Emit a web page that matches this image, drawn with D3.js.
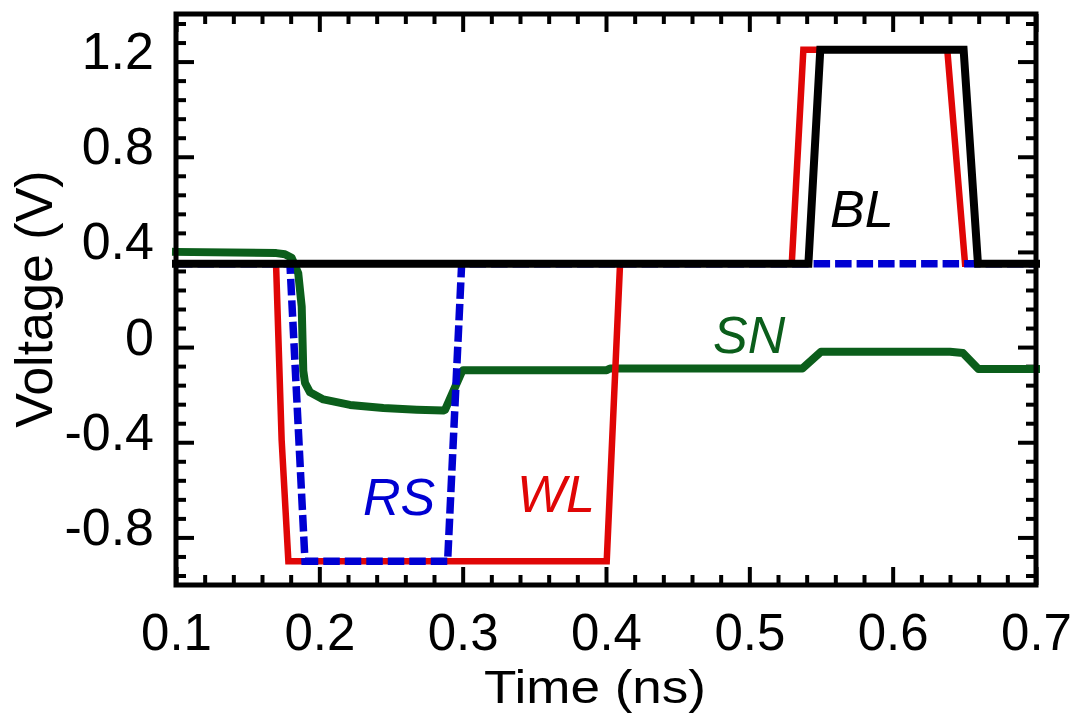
<!DOCTYPE html>
<html>
<head>
<meta charset="utf-8">
<script src="https://cdn.jsdelivr.net/npm/d3@7"></script>
<style>
  html, body { margin: 0; padding: 0; background: #fff; }
  svg { display: block; }
  text { font-family: "Liberation Sans", Arial, Helvetica, sans-serif; }
</style>
</head>
<body>
<svg id="chart" width="1078" height="719"></svg>
<script>
// Word line (WL) waveform: time in ns, voltage in V
const wlTime = [0.1, 0.1698, 0.1737, 0.1784, 0.4005, 0.4098, 0.5296, 0.5377, 0.6381, 0.6505, 0.7];
const wlVolt = [0.35, 0.35, -0.39, -0.9, -0.9, 0.35, 0.35, 1.25, 1.25, 0.35, 0.35];

// Read select (RS) waveform
const rsTime = [0.1, 0.1795, 0.190, 0.2895, 0.2993, 0.7];
const rsVolt = [0.35, 0.35, -0.9, -0.9, 0.35, 0.35];

// Bit line (BL) waveform
const blTime = [0.1, 0.5412, 0.5495, 0.6495, 0.6595, 0.7];
const blVolt = [0.35, 0.35, 1.25, 1.25, 0.35, 0.35];

// Storage node (SN) waveform
const snTime = [0.1, 0.170, 0.176, 0.1807, 0.1853, 0.1877, 0.1888, 0.190, 0.1935, 0.2028,
                0.2214, 0.2447, 0.268, 0.2865, 0.2877, 0.2993, 0.3004, 0.4005, 0.4028, 0.528,
                0.5370, 0.5500, 0.640, 0.649, 0.6598, 0.7];
const snVolt = [0.4, 0.395, 0.39, 0.375, 0.31, 0.17, -0.10, -0.15, -0.19, -0.22,
                -0.243, -0.256, -0.263, -0.267, -0.264, -0.105, -0.097, -0.097, -0.09, -0.09,
                -0.09, -0.02, -0.02, -0.025, -0.092, -0.092];

// Axis ticks
const xTickLabels = [0.1, 0.2, 0.3, 0.4, 0.5, 0.6, 0.7];
const yTickLabels = [-0.8, -0.4, 0, 0.4, 0.8, 1.2];

const svg = d3.select("#chart");
const plotLeft = 176, plotRight = 1036, plotTop = 14, plotBottom = 585;

const x = d3.scaleLinear().domain([0.1, 0.7]).range([plotLeft, plotRight]);
const y = d3.scaleLinear().domain([-1.0, 1.4]).range([plotBottom, plotTop]);

const xMinor = d3.range(0.1, 0.7001, 0.02).filter(v => !xTickLabels.some(m => Math.abs(m - v) < 1e-6));
const yMinor = d3.range(-0.96, 1.4, 0.08).filter(v => !yTickLabels.some(m => Math.abs(m - v) < 1e-6));

const majorLen = 18, minorLen = 10;
// plain hyphen for negative numbers
const fmt = d => d === 0 ? "0" : d.toFixed(1);

function styleAxis(g) {
  g.select(".domain").remove();
  g.selectAll(".tick line").attr("stroke", "#000").attr("stroke-width", 4);
}

// Minor ticks on all four sides (inward)
svg.append("g").attr("transform", `translate(0,${plotBottom})`)
  .call(d3.axisBottom(x).tickValues(xMinor).tickSize(-minorLen).tickFormat("")).call(styleAxis);
svg.append("g").attr("transform", `translate(0,${plotTop})`)
  .call(d3.axisTop(x).tickValues(xMinor).tickSize(-minorLen).tickFormat("")).call(styleAxis);
svg.append("g").attr("transform", `translate(${plotLeft},0)`)
  .call(d3.axisLeft(y).tickValues(yMinor).tickSize(-minorLen).tickFormat("")).call(styleAxis);
svg.append("g").attr("transform", `translate(${plotRight},0)`)
  .call(d3.axisRight(y).tickValues(yMinor).tickSize(-minorLen).tickFormat("")).call(styleAxis);

// Major ticks with labels
const xAxis = svg.append("g").attr("transform", `translate(0,${plotBottom})`)
  .call(d3.axisBottom(x).tickValues(xTickLabels).tickSize(-majorLen).tickFormat(fmt))
  .call(styleAxis);
xAxis.attr("font-family", null).attr("font-size", null);
xAxis.selectAll("text").attr("y", 65).attr("dy", 0)
  .attr("font-size", 51).attr("fill", "#000");

svg.append("g").attr("transform", `translate(0,${plotTop})`)
  .call(d3.axisTop(x).tickValues(xTickLabels).tickSize(-majorLen).tickFormat("")).call(styleAxis);

const yAxis = svg.append("g").attr("transform", `translate(${plotLeft},0)`)
  .call(d3.axisLeft(y).tickValues(yTickLabels).tickSize(-majorLen).tickFormat(fmt))
  .call(styleAxis);
yAxis.attr("font-family", null).attr("font-size", null);
yAxis.selectAll("text").attr("x", -22).attr("y", 7).attr("dy", 0)
  .attr("font-size", 52).attr("fill", "#000");

svg.append("g").attr("transform", `translate(${plotRight},0)`)
  .call(d3.axisRight(y).tickValues(yTickLabels).tickSize(-majorLen).tickFormat("")).call(styleAxis);

// Waveforms
const pts = (t, v) => t.map((d, i) => [d, v[i]]);
const line = d3.line().x(d => x(d[0])).y(d => y(d[1]));

svg.append("path").datum(pts(snTime, snVolt)).attr("d", line)
  .attr("fill", "none").attr("stroke", "#0b5e1b").attr("stroke-width", 8)
  .attr("stroke-linecap", "square").attr("stroke-linejoin", "round");

svg.append("path").datum(pts(wlTime, wlVolt)).attr("d", line)
  .attr("fill", "none").attr("stroke", "#e00606").attr("stroke-width", 6.5)
  .attr("stroke-linejoin", "miter");

svg.append("path").datum(pts(rsTime, rsVolt)).attr("d", line)
  .attr("fill", "none").attr("stroke", "#0000d2").attr("stroke-width", 7.5)
  .attr("stroke-dasharray", "16.5,5").attr("stroke-linejoin", "miter");

svg.append("path").datum(pts(blTime, blVolt)).attr("d", line)
  .attr("fill", "none").attr("stroke", "#000").attr("stroke-width", 8)
  .attr("stroke-linecap", "square").attr("stroke-linejoin", "miter");

// Frame
svg.append("rect").attr("x", plotLeft).attr("y", plotTop)
  .attr("width", plotRight - plotLeft).attr("height", plotBottom - plotTop)
  .attr("fill", "none").attr("stroke", "#000").attr("stroke-width", 5);

// Series labels
const labels = [
  { text: "BL", t: 0.5563, v: 0.505, color: "#000" },
  { text: "SN", t: 0.4747, v: -0.025, color: "#0b5e1b" },
  { text: "RS", t: 0.2305, v: -0.706, color: "#0000d2" },
  { text: "WL", t: 0.3379, v: -0.693, color: "#e00606" }
];
svg.selectAll(".series-label").data(labels).enter().append("text")
  .attr("class", "series-label")
  .attr("x", d => x(d.t)).attr("y", d => y(d.v))
  .attr("font-size", 52).attr("font-style", "italic")
  .attr("fill", d => d.color).text(d => d.text);

// Axis titles
svg.append("text").attr("x", 595).attr("y", 703).attr("text-anchor", "middle")
  .attr("font-size", 46).attr("textLength", 222).attr("lengthAdjust", "spacingAndGlyphs")
  .attr("fill", "#000").text("Time (ns)");
svg.append("text").attr("transform", "translate(52,299) rotate(-90)")
  .attr("text-anchor", "middle").attr("font-size", 52).attr("fill", "#000").text("Voltage (V)");
</script>
</body>
</html>
